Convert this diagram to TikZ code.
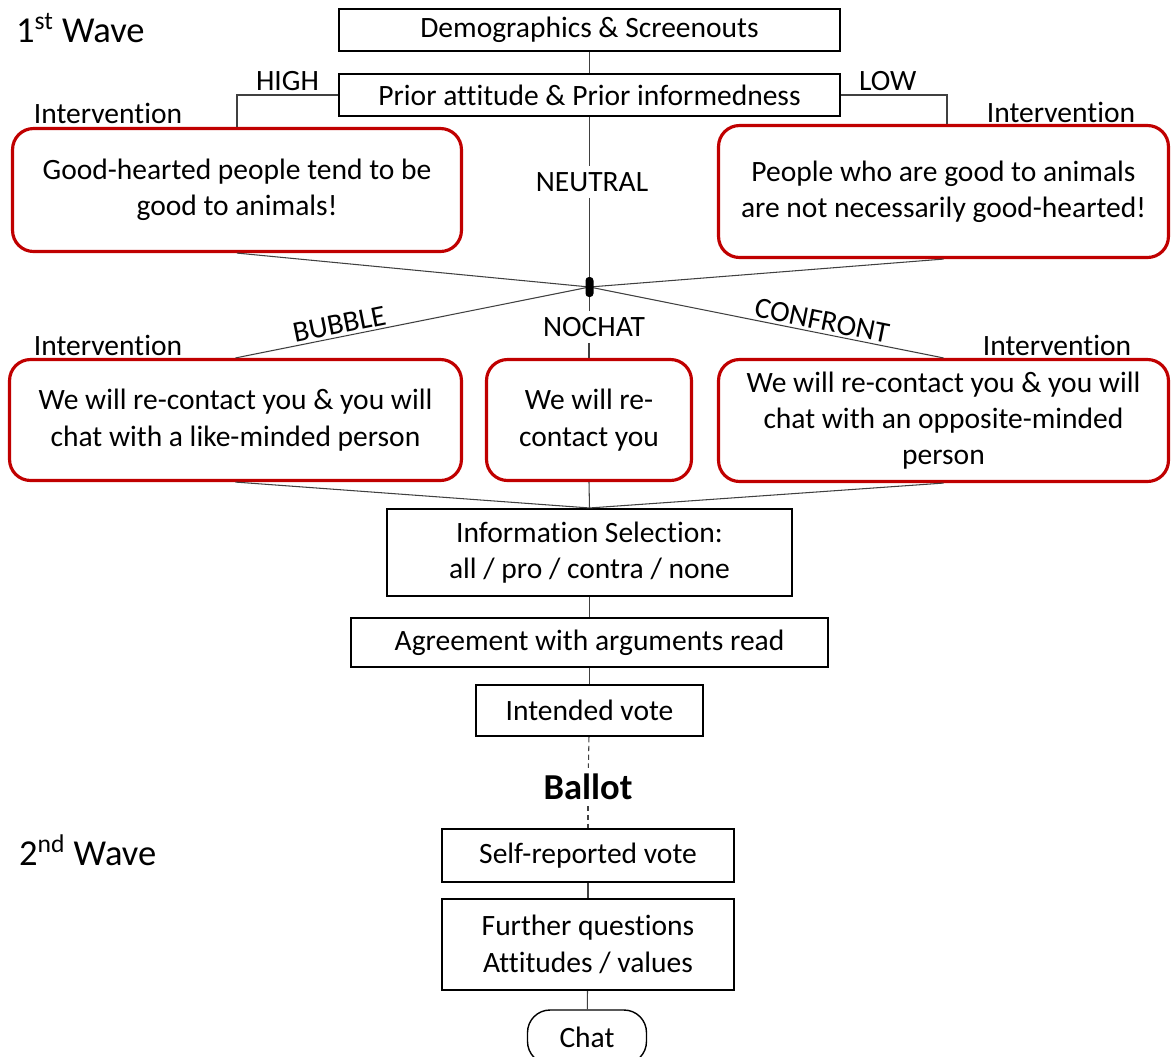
\documentclass[tikz,border=0pt]{standalone}
\usepackage{fontspec}
\setmainfont{Carlito}[Ligatures={TeX,NoCommon}]
\definecolor{msgred}{HTML}{C00000}

\begin{document}
\begin{tikzpicture}[
  x=0.02cm,y=-0.02cm,
  font=\fontsize{16.8}{20.7}\selectfont,
  box/.style={draw,line width=1.2pt,align=center,inner sep=0pt},
  msg/.style={draw=msgred,line width=1.8pt,rounded corners=0.42cm,align=center,inner sep=0pt},
  big/.style={font=\fontsize{20.8}{25}\selectfont},
  link/.style={draw=black!75,line width=0.6pt},
  vote/.style={link,dash pattern=on 3pt off 2pt}
]
\useasboundingbox (0,0) rectangle (1171,1056);

\node[big,anchor=west] (wave1) at (10,28) {1\textsuperscript{st} Wave};
\node[big,anchor=west] (wave2) at (13,850) {2\textsuperscript{nd} Wave};

\node[box,minimum width=10.02cm,minimum height=0.84cm] (demo) at (589.5,30) {Demographics \& Screenouts};
\node[box,minimum width=10.02cm,minimum height=0.84cm] (prior) at (589.5,95) {Prior attitude \& Prior informedness};

\node (ivl1) at (108,113) {Intervention};
\node (ivr1) at (1061,112) {Intervention};
\node[msg,minimum width=8.98cm,minimum height=2.46cm] (good) at (237,190) {Good-hearted people tend to be\\good to animals!};
\node[msg,minimum width=9.0cm,minimum height=2.64cm] (animals) at (943.5,191.5) {People who are good to animals\\are not necessarily good-hearted!};
\node (neutral) at (592,182) {NEUTRAL};

\coordinate (hubc) at (589.5,287);

\node (ivl2) at (108,345) {Intervention};
\node (ivr2) at (1057,345) {Intervention};
\node (nochat) at (594,327) {NOCHAT};
\node[msg,minimum width=9.04cm,minimum height=2.42cm] (bubble) at (235.5,420) {We will re-contact you \& you will\\chat with a like-minded person};
\node[msg,minimum width=4.1cm,minimum height=2.42cm] (recontact) at (589,420) {We will re-\\contact you};
\node[msg,minimum width=9.0cm,minimum height=2.44cm] (confront) at (943.5,420.5) {We will re-contact you \& you will\\chat with an opposite-minded\\person};

\node[box,minimum width=8.1cm,minimum height=1.74cm] (info) at (589.5,552.5) {Information Selection:\\all / pro / contra / none};
\node[box,minimum width=9.54cm,minimum height=0.98cm] (agree) at (589.5,642.5) {Agreement with arguments read};
\node[box,minimum width=4.54cm,minimum height=1.02cm] (intended) at (589.5,710.5) {Intended vote};
\node[big,font=\fontsize{20.8}{25}\selectfont\bfseries] (ballot) at (588,787) {Ballot};
\node[box,minimum width=5.84cm,minimum height=1.06cm] (selfrep) at (588,855.5) {Self-reported vote};
\node[box,minimum width=5.84cm,minimum height=1.82cm] (further) at (588,944.5) {Further questions\\Attitudes / values};
\node[draw,line width=0.8pt,rounded corners=0.45cm,minimum width=2.38cm,minimum height=1.08cm,inner sep=0pt] (chat) at (587,1037) {Chat};

% connectors
\draw[link] (demo) -- (prior);
\draw[link] (prior.west) -| node[pos=0.25,above=-1pt] {HIGH} (good.north);
\draw[link] (prior.east) -| node[pos=0.22,above=-1pt] {LOW} ([xshift=0.07cm]animals.north);
\draw[link] (prior.south) -- (prior.south |- neutral.north);
\draw[link] (prior.south |- neutral.south) -- (hubc);
\foreach \b in {good,animals}
  \draw[link] (\b.south) -- (hubc);
\draw[link] (hubc) -- node[sloped,above=-2pt,pos=0.7] {BUBBLE} (bubble.north);
\draw[link] (hubc) -- node[sloped,above=-2pt,pos=0.65] {CONFRONT} (confront.north);
\draw[link] (hubc) -- (hubc |- nochat.north);
\draw[link] (recontact.north |- nochat.south) -- (recontact.north);
\foreach \b in {bubble,recontact,confront}
  \draw[link] (\b.south) -- (info.north);
\draw[link] (info) -- (agree);
\draw[link] (agree) -- (intended);
\draw[vote] (intended) -- (ballot);
\draw[vote] (ballot) -- (selfrep);
\draw[link] (selfrep) -- (further);
\draw[link] (further) -- (chat);

\node[fill=black,rounded corners=2pt,minimum width=0.16cm,minimum height=0.4cm,inner sep=0pt] (hub) at (hubc) {};
\end{tikzpicture}
\end{document}
